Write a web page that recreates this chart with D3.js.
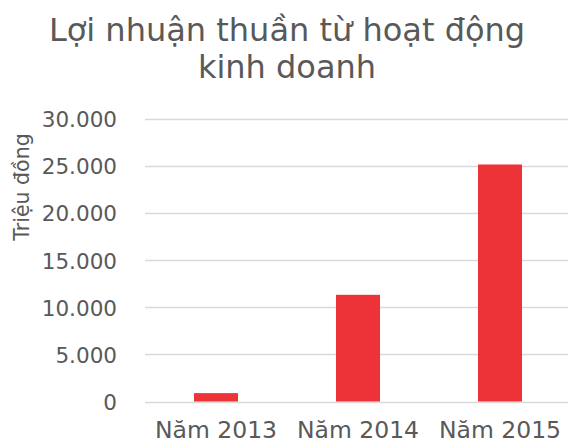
<!DOCTYPE html>
<html><head><meta charset="utf-8">
<script src="https://cdn.jsdelivr.net/npm/d3@7"></script>
<style>body{margin:0;background:#fff}svg{display:block}text{font-family:"DejaVu Sans",Verdana,sans-serif;fill:#595959}</style>
</head><body><svg id="c" width="568" height="443"></svg>
<script>
const categories = ["Năm 2013", "Năm 2014", "Năm 2015"];
const values = [890, 11330, 25170];
const yTicks = [0, 5000, 10000, 15000, 20000, 25000, 30000];
const titleLines = ["Lợi nhuận thuần từ hoạt động", "kinh doanh"];
const yTitle = "Triệu đồng";

const svg = d3.select("#c");
const W = 568, H = 443;
const x = d3.scaleBand().domain(categories).range([145, 571]).paddingInner(0.69).paddingOuter(0.345);
const y = d3.scaleLinear().domain([0, 30000]).range([401.5, 119]);
const fmt = v => d3.format(",")(v).replace(/,/g, ".");

// grid
svg.append("g").selectAll("line").data(yTicks).join("line")
  .attr("x1", 145).attr("x2", W).attr("y1", d => Math.round(y(d)) + 0.5).attr("y2", d => Math.round(y(d)) + 0.5)
  .attr("stroke", "#d9d9d9").attr("stroke-width", 1.5);

// bars
svg.append("g").selectAll("rect").data(values).join("rect")
  .attr("x", (d, i) => x(categories[i])).attr("width", x.bandwidth())
  .attr("y", d => y(d)).attr("height", d => y(0) - y(d))
  .attr("fill", "#ee3338");

// y axis
const ya = d3.axisLeft(y).tickValues(yTicks).tickFormat(fmt).tickSize(0).tickPadding(0);
const gy = svg.append("g").attr("transform", "translate(117,0)").call(ya);
gy.select(".domain").remove();
gy.selectAll("text").attr("font-size", 21.5).style("fill", "#595959").attr("dy", "0.36em");

// x axis
const xa = d3.axisBottom(x).tickSize(0).tickPadding(0);
const gx = svg.append("g").attr("transform", "translate(0,438)").call(xa);
gx.select(".domain").remove();
gx.selectAll("text").attr("font-size", 23.5).style("fill", "#595959").attr("dy", "0");

// title
svg.append("g").selectAll("text").data(titleLines).join("text")
  .attr("x", 287).attr("y", (d, i) => 41 + i * 37).attr("text-anchor", "middle")
  .attr("font-size", 32).text(d => d);

svg.append("text").attr("transform", "translate(29,187) rotate(-90)").attr("text-anchor", "middle")
  .attr("font-size", 20.5).text(yTitle);
</script></body></html>
